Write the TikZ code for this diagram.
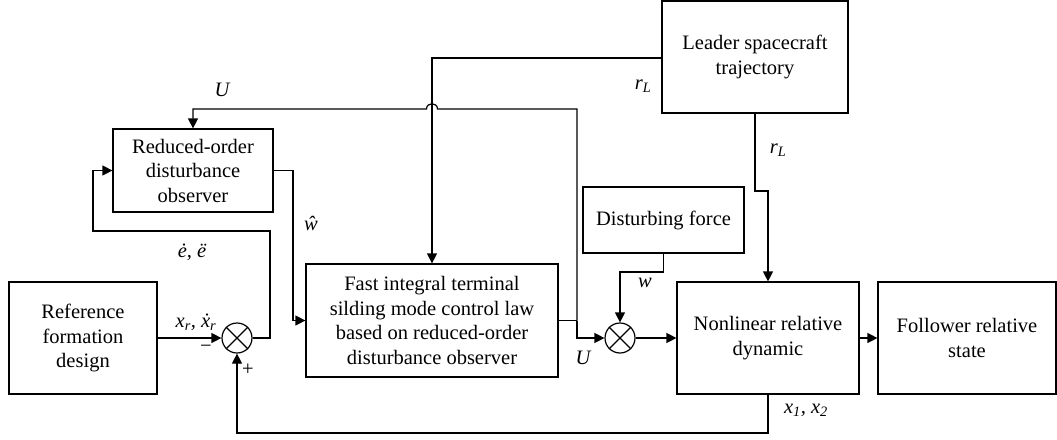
\documentclass[tikz,border=0pt]{standalone}
\usepackage{fontspec}
\setmainfont{Liberation Serif}
\usetikzlibrary{arrows.meta}
\begin{document}
\begin{tikzpicture}[x=1pt,y=-1pt,
 blk/.style={draw, line width=1.2pt, inner sep=0pt, align=center, font=\fontsize{20.5}{24.5}\selectfont},
 con/.style={line width=1.2pt, -{Triangle[length=10pt,width=10pt]}},
 ln/.style={line width=1.2pt},
 sumj/.style={draw, circle, line width=1.2pt, minimum size=30pt, inner sep=0pt},
 lbl/.style={font=\fontsize{20.5}{24}\selectfont\itshape, inner sep=0pt}]
\useasboundingbox (0,0) rectangle (1057,439);
% blocks
\node[blk, minimum width=148pt, minimum height=112pt] (ref) at (83,338) {Reference\\formation\\design};
\node[blk, minimum width=160pt, minimum height=83pt] (rod) at (193,170.5) {Reduced-order\\disturbance\\observer};
\node[blk, minimum width=252pt, minimum height=113pt] (fit) at (432,320.5) {Fast integral terminal\\silding mode control law\\based on reduced-order\\disturbance observer};
\node[blk, minimum width=186pt, minimum height=112pt] (lead) at (755,57) {Leader spacecraft\\trajectory};
\node[blk, minimum width=161pt, minimum height=66pt] (dist) at (663.5,220) {Disturbing force};
\node[blk, minimum width=182pt, minimum height=112pt] (nl) at (768,338) {Nonlinear relative\\dynamic};
\node[blk, minimum width=178pt, minimum height=112pt] (fol) at (967,338) {Follower relative\\state};
% summing junctions
\node[sumj] (s1) at (237,338) {};
\draw[ln] (s1.north west) -- (s1.south east) (s1.north east) -- (s1.south west);
\node[sumj] (s2) at (620,338) {};
\draw[ln] (s2.north west) -- (s2.south east) (s2.north east) -- (s2.south west);
\coordinate (uj) at (577,320.5);
% connectors
\draw[con] (ref.east) -- (s1.west);
\draw[con] (s1.east) -- (270,338) -- (270,231) -- (93,231) -- (93,170.5) -- (rod.west);
\draw[con] (rod.east) -| (293,320.5) -- (fit.west);
\draw[con] (lead.west |- 0,58) -| (fit.north);
\draw[ln] (fit.east) -- (uj);
\draw[con] (uj) -- (577,338) -- (s2.west);
\draw[con] (uj) -- (577,109) -- (437.5,109) .. controls (437.5,102) and (426.5,102) .. (426.5,109) -| (rod.north);
\draw[con] (dist.south) -- (663.5,272) -| (s2.north);
\draw[con] (s2.east) -- (nl.west);
\draw[con] (lead.south) -- (755,191) -- (768,191) -- (nl.north);
\draw[con] (nl.east) -- (fol.west);
\draw[con] (nl.south) -- (768,433) -| (s1.south);
% labels
\node[lbl] (lU1) at (222,90) {U};
\node[lbl] (lrL1) at (643,86) {r\textsubscript{L}};
\node[lbl] (lrL2) at (778,150) {r\textsubscript{L}};
\node[lbl] (lw1) at (311,223) {ŵ};
\node[lbl] (le) at (192,252) {ė, ë};
\node[lbl] (lx) at (196,322) {x\textsubscript{r}, ẋ\textsubscript{r}};
\node[lbl, font=\fontsize{20.5}{24}\selectfont] (lm) at (206,349) {−};
\node[lbl, font=\fontsize{20.5}{24}\selectfont] (lp) at (248,370) {+};
\node[lbl] (lU2) at (583,358) {U};
\node[lbl] (lw2) at (645,283) {w};
\node[lbl] (lx12) at (806,410) {x\textsubscript{1}, x\textsubscript{2}};
\end{tikzpicture}
\end{document}
